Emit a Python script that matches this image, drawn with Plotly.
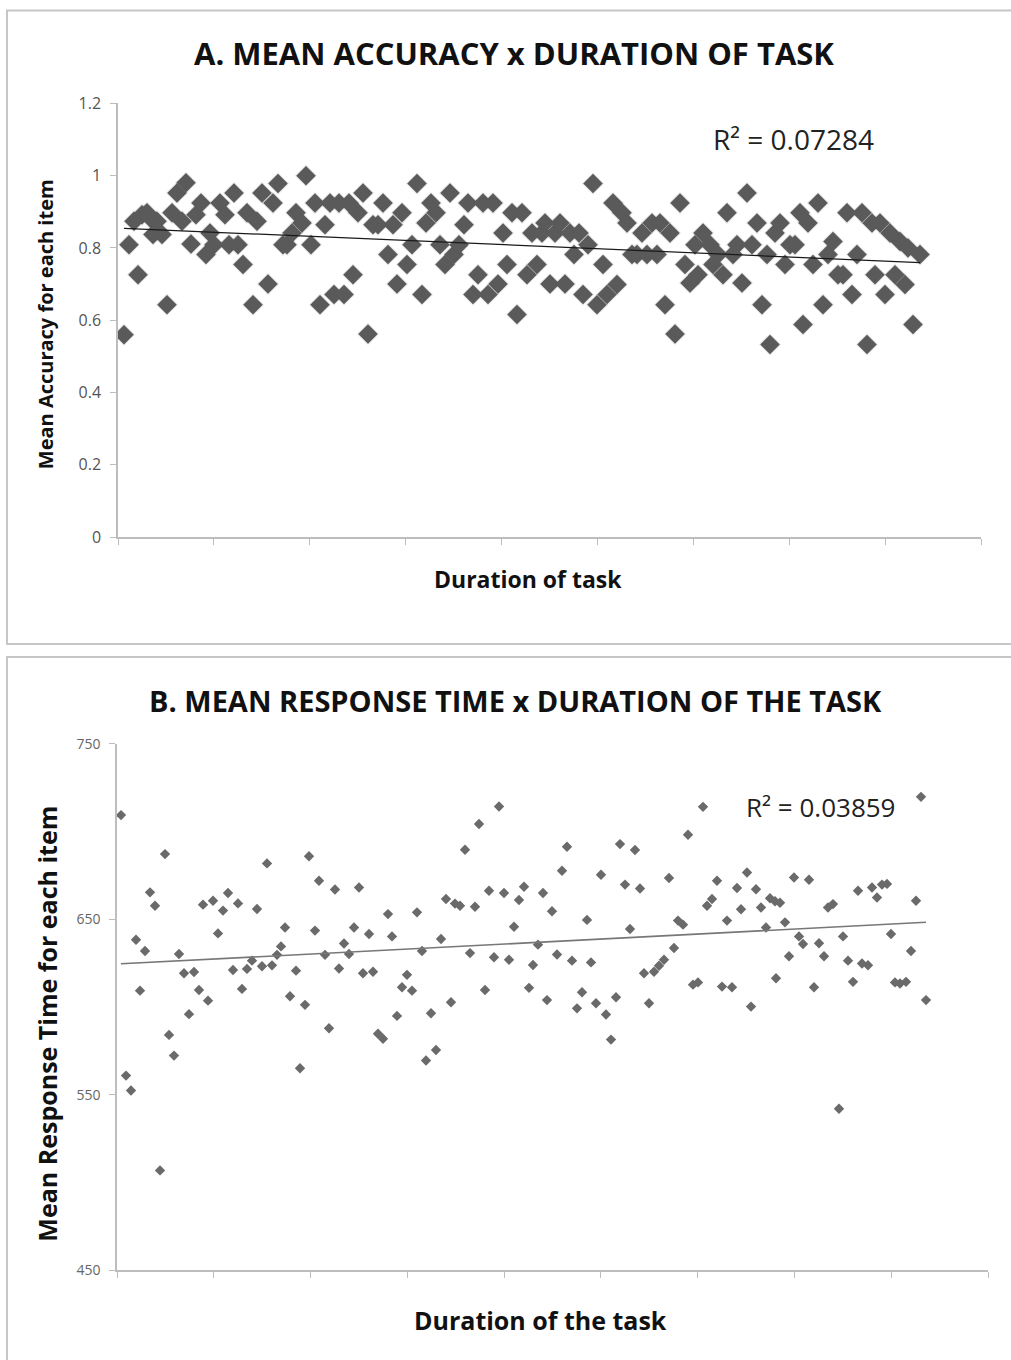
import numpy as np
import plotly.graph_objects as go

# ---------------- Panel A data: mean accuracy per item ----------------
acc_x = [6, 11, 16, 20, 24, 29, 34, 35, 39, 44,
         49, 54, 59, 64, 68, 73, 78, 83, 88, 92,
         96, 102, 107, 111, 116, 120, 125, 129, 135, 139,
         144, 150, 155, 160, 165, 169, 174, 178, 184, 188,
         193, 197, 202, 207, 212, 216, 221, 226, 231, 235,
         240, 245, 250, 255, 260, 265, 270, 275, 279, 284,
         289, 294, 299, 304, 308, 313, 318, 322, 327, 332,
         336, 341, 346, 350, 355, 360, 365, 370, 375, 380,
         385, 389, 394, 399, 404, 409, 414, 419, 424, 427,
         432, 437, 442, 447, 452, 456, 461, 465, 470, 475,
         479, 485, 489, 495, 499, 504, 509, 514, 519, 524,
         529, 534, 539, 542, 547, 552, 557, 562, 567, 572,
         577, 580, 585, 592, 595, 600, 605, 609, 615, 619,
         624, 629, 634, 639, 644, 649, 652, 657, 662, 667,
         672, 677, 682, 685, 690, 695, 700, 705, 710, 715,
         720, 725, 729, 734, 739, 744, 749, 754, 757, 762,
         767, 772, 777, 782, 787, 790, 795, 802]
acc_y = [0.560, 0.809, 0.874, 0.726, 0.892, 0.897, 0.878, 0.837, 0.874, 0.837,
         0.643, 0.897, 0.952, 0.874, 0.980, 0.811, 0.892, 0.924, 0.782, 0.841,
         0.809, 0.924, 0.892, 0.809, 0.952, 0.809, 0.754, 0.897, 0.643, 0.874,
         0.952, 0.700, 0.924, 0.978, 0.809, 0.809, 0.841, 0.897, 0.869, 1.000,
         0.809, 0.924, 0.643, 0.864, 0.924, 0.671, 0.924, 0.671, 0.924, 0.726,
         0.897, 0.952, 0.562, 0.864, 0.864, 0.924, 0.782, 0.864, 0.700, 0.897,
         0.754, 0.809, 0.978, 0.671, 0.869, 0.924, 0.897, 0.809, 0.754, 0.952,
         0.782, 0.809, 0.864, 0.924, 0.671, 0.726, 0.924, 0.671, 0.924, 0.700,
         0.841, 0.754, 0.897, 0.616, 0.897, 0.726, 0.841, 0.754, 0.841, 0.869,
         0.700, 0.841, 0.869, 0.700, 0.841, 0.782, 0.841, 0.671, 0.809, 0.978,
         0.643, 0.754, 0.671, 0.924, 0.699, 0.897, 0.869, 0.782, 0.782, 0.841,
         0.782, 0.869, 0.782, 0.869, 0.643, 0.841, 0.562, 0.924, 0.754, 0.703,
         0.809, 0.726, 0.841, 0.809, 0.754, 0.782, 0.726, 0.897, 0.782, 0.809,
         0.703, 0.952, 0.809, 0.869, 0.643, 0.782, 0.533, 0.841, 0.869, 0.754,
         0.809, 0.809, 0.897, 0.588, 0.869, 0.754, 0.924, 0.643, 0.782, 0.818,
         0.726, 0.726, 0.897, 0.671, 0.782, 0.897, 0.533, 0.869, 0.726, 0.869,
         0.671, 0.841, 0.726, 0.818, 0.699, 0.800, 0.588, 0.782]

# ---------------- Panel B data: mean response time per item ----------------
rt_x = [4, 9, 14, 19, 23, 28, 33, 38, 43, 48,
        52, 57, 62, 67, 72, 77, 82, 86, 91, 96,
        101, 106, 111, 116, 121, 125, 130, 135, 140, 145,
        150, 155, 160, 164, 168, 173, 179, 183, 188, 192,
        198, 202, 208, 212, 218, 222, 227, 232, 237, 242,
        246, 252, 256, 261, 266, 271, 275, 280, 285, 290,
        295, 300, 305, 309, 314, 319, 324, 329, 334, 338,
        343, 348, 353, 358, 362, 368, 372, 377, 382, 387,
        392, 397, 402, 407, 412, 416, 421, 426, 430, 435,
        440, 445, 450, 455, 460, 465, 470, 474, 479, 484,
        489, 494, 499, 503, 508, 513, 518, 523, 527, 532,
        537, 542, 547, 552, 557, 561, 566, 571, 576, 581,
        586, 590, 595, 600, 605, 610, 615, 620, 624, 630,
        634, 639, 644, 649, 653, 658, 659, 663, 668, 672,
        677, 682, 686, 692, 697, 702, 707, 711, 716, 722,
        726, 731, 736, 741, 745, 751, 755, 760, 765, 770,
        774, 778, 783, 789, 794, 799, 804, 809]
rt_y = [709.4, 561.0, 552.5, 638.4, 609.4, 632.0, 665.4, 657.8, 507.0, 687.2,
        584.2, 572.4, 630.3, 619.3, 596.0, 620.0, 609.8, 658.4, 603.7, 660.6,
        642.0, 655.0, 665.0, 621.2, 659.1, 610.4, 621.8, 626.5, 655.9, 623.3,
        681.9, 623.8, 629.8, 634.6, 645.4, 606.2, 620.8, 565.2, 601.3, 686.0,
        643.6, 672.0, 629.8, 588.0, 667.0, 622.0, 636.3, 630.3, 645.4, 668.2,
        619.3, 641.7, 620.2, 584.8, 582.0, 653.0, 640.3, 595.0, 611.3, 618.4,
        609.4, 654.0, 632.0, 569.6, 596.5, 575.6, 638.8, 661.6, 602.8, 659.0,
        657.8, 689.7, 630.8, 657.2, 704.3, 609.8, 666.3, 628.4, 714.3, 665.0,
        627.0, 645.8, 661.0, 668.6, 611.0, 624.0, 635.6, 665.0, 604.0, 654.6,
        630.0, 677.7, 691.4, 626.5, 599.3, 608.5, 649.7, 625.5, 602.2, 675.4,
        595.8, 581.5, 605.6, 692.9, 669.8, 644.5, 689.5, 667.6, 619.3, 602.2,
        620.2, 623.6, 627.0, 673.6, 633.7, 649.3, 647.0, 698.2, 612.8, 614.1,
        714.1, 657.8, 661.6, 672.0, 611.7, 649.3, 611.3, 667.9, 655.8, 676.7,
        600.3, 667.2, 656.8, 645.4, 662.0, 660.3, 616.5, 659.5, 648.3, 629.0,
        673.9, 640.3, 636.0, 672.6, 611.3, 636.4, 629.0, 656.8, 658.7, 542.1,
        640.3, 626.5, 614.4, 666.3, 624.9, 623.9, 668.2, 662.5, 669.8, 670.2,
        641.7, 614.1, 613.5, 614.4, 632.0, 660.6, 719.8, 604.0]

acc_r2_text = "R² = 0.07284"
rt_r2_text = "R² = 0.03859"
acc_title = "A. MEAN ACCURACY x DURATION OF TASK"
rt_title = "B. MEAN RESPONSE TIME x DURATION OF THE TASK"
acc_ylabel = "Mean Accuracy for each item"
rt_ylabel = "Mean Response Time for each item"
acc_xlabel = "Duration of task"
rt_xlabel = "Duration of the task"

# linear trend lines (least squares) from the data
ax_arr = np.array(acc_x, float); ay_arr = np.array(acc_y, float)
ka, ba = np.polyfit(ax_arr, ay_arr, 1)
ta_x = [ax_arr.min(), ax_arr.max()]
ta_y = [ka * v + ba for v in ta_x]

bx_arr = np.array(rt_x, float); by_arr = np.array(rt_y, float)
kb, bb = np.polyfit(bx_arr, by_arr, 1)
tb_x = [bx_arr.min(), bx_arr.max()]
tb_y = [kb * v + bb for v in tb_x]

W, H = 1011, 1360
def px(x): return x / W
def py(y):
    yy = (y - 9.57) / 0.9846
    return 1 - yy / H

FONT = "Open Sans"
fig = go.Figure()

# Panel A
fig.add_trace(go.Scatter(x=acc_x, y=acc_y, mode="markers", xaxis="x", yaxis="y",
                         marker=dict(symbol="diamond", size=17, color="rgba(0,0,0,0.10)",
                                     line=dict(width=0)),
                         hoverinfo="skip", showlegend=False))
fig.add_trace(go.Scatter(x=acc_x, y=acc_y, mode="markers", xaxis="x", yaxis="y",
                         marker=dict(symbol="diamond", size=15, color="#5a5a5a",
                                     line=dict(width=0)),
                         showlegend=False))
fig.add_trace(go.Scatter(x=ta_x, y=ta_y, mode="lines", xaxis="x", yaxis="y",
                         line=dict(color="#1a1a1a", width=1.2), showlegend=False))

# Panel B
fig.add_trace(go.Scatter(x=rt_x, y=rt_y, mode="markers", xaxis="x2", yaxis="y2",
                         marker=dict(symbol="diamond", size=8, color="#6a6a6a",
                                     line=dict(width=0)),
                         showlegend=False))
fig.add_trace(go.Scatter(x=tb_x, y=tb_y, mode="lines", xaxis="x2", yaxis="y2",
                         line=dict(color="#777777", width=1.6), showlegend=False))

axis_common = dict(showgrid=False, zeroline=False, showline=True, linecolor="#bdbdbd",
                   linewidth=1.5, ticks="outside", tickcolor="#bdbdbd", tickwidth=1,
                   ticklen=6, fixedrange=True)

fig.update_layout(
    width=W, height=H,
    margin=dict(l=0, r=0, t=0, b=0),
    paper_bgcolor="white", plot_bgcolor="white",
    font=dict(family=FONT, color="#111111"),
    xaxis=dict(domain=[px(118), px(981)], anchor="y", range=[0, 863],
               tick0=0, dtick=863 / 9, showticklabels=False, **axis_common),
    yaxis=dict(domain=[py(536), py(102)], anchor="x", range=[0, 1.2],
               tick0=0, dtick=0.2, tickfont=dict(size=16, color="#555555", family=FONT),
               ticklabelstandoff=6, **axis_common),
    xaxis2=dict(domain=[px(117), px(988)], anchor="y2", range=[0, 871],
                tick0=0, dtick=871 / 9, showticklabels=False, **axis_common),
    yaxis2=dict(domain=[py(1270), py(743)], anchor="x2", range=[450, 750],
                tick0=450, dtick=100, tickfont=dict(size=14, color="#666666", family=FONT),
                ticklabelstandoff=6, **axis_common),
)

# panel frames
fig.add_shape(type="rect", xref="paper", yref="paper",
              x0=px(7), x1=px(1016), y0=py(643), y1=py(9),
              line=dict(color="#c6c6c6", width=2), fillcolor="rgba(0,0,0,0)")
fig.add_shape(type="rect", xref="paper", yref="paper",
              x0=px(7), x1=px(1016), y0=py(1380), y1=py(656),
              line=dict(color="#c6c6c6", width=2), fillcolor="rgba(0,0,0,0)")

def ann(text, x, y, size, bold=False, angle=0, color="#111111"):
    fig.add_annotation(text=f"<b>{text}</b>" if bold else text,
                       xref="paper", yref="paper", x=px(x), y=py(y),
                       xanchor="center", yanchor="middle", showarrow=False,
                       textangle=angle, font=dict(size=size, family=FONT, color=color))

ann(acc_title, 514, 52, 31, bold=True)
ann(rt_title, 515, 700, 29, bold=True)
ann(acc_ylabel, 45, 323, 20, bold=True, angle=-90)
ann(rt_ylabel, 47, 1023, 25, bold=True, angle=-90)
ann(acc_xlabel, 528, 578, 23, bold=True)
ann(rt_xlabel, 540, 1320, 25, bold=True)
ann(acc_r2_text, 793, 138, 28, color="#222222")
ann(rt_r2_text, 821, 806, 26, color="#222222")

fig.write_html("out.html")
